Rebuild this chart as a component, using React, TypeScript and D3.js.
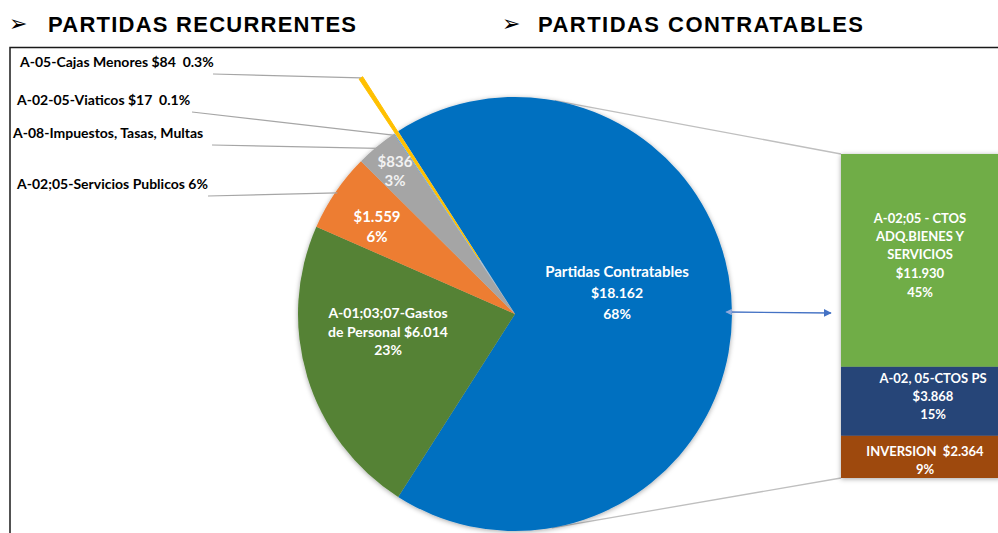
import * as d3 from 'd3';

// main pie data
const categories = [
  'Partidas Contratables',
  'A-01;03;07-Gastos de Personal',
  'A-02;05-Servicios Publicos',
  'A-08-Impuestos, Tasas, Multas',
  'A-02-05-Viaticos',
  'A-05-Cajas Menores',
];
const values = [18162, 6014, 1559, 836, 17, 84];
const sliceColors = ['#0070C0', '#548235', '#ED7D31', '#A5A5A5', '#5B9BD5', '#FFC000'];

// bar (breakdown of Partidas Contratables)
const barCategories = ['A-02;05 - CTOS ADQ.BIENES Y SERVICIOS', 'A-02, 05-CTOS PS', 'INVERSION'];
const barValues = [11930, 3868, 2364];
const barColors = ['#70AD47', '#264478', '#9E480E'];

const headers = ['PARTIDAS RECURRENTES', 'PARTIDAS CONTRATABLES'];

const W = 998;
const H = 533;
const cx = 515;
const cy = 314;
const R = 217;
const explode = 65; // cajas menores slice is pulled out
const bar = { x: 841, w: 160, top: 154, bottom: 478 };

const locale = d3.formatLocale({ decimal: ',', thousands: '.', grouping: [3], currency: ['$', ''] });
const money = locale.format('$,');
const total = d3.sum(values);
const pct = (v: number) => `${Math.round((v / total) * 100)}%`;
const pct1 = (v: number) => `${((v / total) * 100).toFixed(1)}%`;

const FONT = 'Lato, "Open Sans", sans-serif';

export default function App() {
  const start = Math.PI / 2 - (values[0] / total) * Math.PI;
  const pie = d3.pie<number>().sort(null).startAngle(start).endAngle(start + 2 * Math.PI);
  const arcs = pie(values);
  const arc = d3.arc<d3.PieArcDatum<number>>().innerRadius(0).outerRadius(R);

  const mid = (a: d3.PieArcDatum<number>) => (a.startAngle + a.endAngle) / 2;
  const polar = (ang: number, r: number): [number, number] => [cx + r * Math.sin(ang), cy - r * Math.cos(ang)];

  // bar scale
  const y = d3.scaleLinear().domain([0, d3.sum(barValues)]).range([bar.top, bar.bottom]);
  const stacked = barValues.map((v, i) => ({ v, y0: y(d3.sum(barValues.slice(0, i))), y1: y(d3.sum(barValues.slice(0, i + 1))) }));

  // connector lines: tangents from the bar corners to the pie
  const tangent = (px: number, py: number, sign: number): [number, number] => {
    const dx = px - cx;
    const dy = py - cy;
    const d = Math.hypot(dx, dy);
    const a = Math.atan2(dy, dx) + sign * Math.acos(R / d);
    return [cx + R * Math.cos(a), cy + R * Math.sin(a)];
  };
  const tTop = tangent(bar.x, bar.top, -1);
  const tBot = tangent(bar.x, bar.bottom, 1);

  const cajas = arcs[5];
  const cajasOff = polar(mid(cajas), explode);
  const cajasTip = polar(mid(cajas), R + explode);

  const lbl = { fill: '#fff', fontFamily: FONT, fontWeight: 700, fontSize: 14, textAnchor: 'middle' as const, style: { whiteSpace: 'pre' as const } };
  const outLbl = { fill: '#000', fontFamily: FONT, fontWeight: 700, fontSize: 14, style: { whiteSpace: 'pre' as const } };

  // outside labels: [index, text, x, y, leader start x]
  const outside: [number, string, number, number, number][] = [
    [5, `${categories[5]} ${money(values[5])}  ${pct1(values[5])}`, 20, 62, 213],
    [4, `${categories[4]} ${money(values[4])}  ${pct1(values[4])}`, 17, 100, 192],
    [3, categories[3], 13, 133, 212],
    [2, `${categories[2]} ${pct(values[2])}`, 17, 184, 208],
  ];

  return (
    <div style={{ position: 'absolute', left: 0, top: 0 }}>
      <svg width={W} height={H} style={{ display: 'block', background: '#fff' }}>
        <defs>
          <filter id="sh" x="-20%" y="-20%" width="140%" height="140%">
            <feDropShadow dx="0" dy="1" stdDeviation="2.5" floodColor="#000" floodOpacity="0.35" />
          </filter>
          <marker id="ah" viewBox="0 0 10 10" refX="9" refY="5" markerWidth="6" markerHeight="6" orient="auto">
            <path d="M0,0 L10,5 L0,10 z" fill="#4472C4" />
          </marker>
          <marker id="as" viewBox="0 0 10 10" refX="1" refY="5" markerWidth="5" markerHeight="5" orient="auto">
            <path d="M10,0 L0,5 L10,10 z" fill="#8FAADC" />
          </marker>
        </defs>

        {/* headers */}
        {headers.map((h, i) => {
          const x0 = i === 0 ? 9 : 502;
          return (
            <g key={h}>
              <text x={x0} y={31} fontFamily="DejaVu Sans" fontSize={22} fill="#000">➢</text>
              <text x={x0 + 39 - i * 3} y={31.5} fontFamily='"Liberation Sans", Arial, sans-serif' fontWeight={700} fontSize={22}
                textLength={i === 0 ? 308 : 325} lengthAdjust="spacing" fill="#000">{h}</text>
            </g>
          );
        })}

        {/* chart frame */}
        <rect x={10} y={47.5} width={1000} height={520} fill="none" stroke="#1a1a1a" strokeWidth={1.5} />

        {/* connector lines */}
        <line x1={tTop[0]} y1={tTop[1]} x2={bar.x} y2={bar.top} stroke="#BFBFBF" strokeWidth={1.3} />
        <line x1={tBot[0]} y1={tBot[1]} x2={bar.x} y2={bar.bottom} stroke="#BFBFBF" strokeWidth={1.3} />

        {/* pie */}
        <g filter="url(#sh)">
          {arcs.slice(0, 5).map((a, i) => (
            <path key={i} d={arc(a) || ''} transform={`translate(${cx},${cy})`} fill={sliceColors[i]} />
          ))}
        </g>
        <path d={arc(cajas) || ''} transform={`translate(${cajasOff[0]},${cajasOff[1]})`} fill={sliceColors[5]} stroke={sliceColors[5]} strokeWidth={1} />

        {/* bar */}
        <g filter="url(#sh)">
          {stacked.map((s, i) => (
            <rect key={i} x={bar.x} y={s.y0} width={bar.w} height={s.y1 - s.y0} fill={barColors[i]} />
          ))}
        </g>

        {/* arrow */}
        <line x1={cx + R - 6} y1={cy - 2} x2={bar.x - 10} y2={cy - 1} stroke="#4472C4" strokeWidth={1.3}
          markerEnd="url(#ah)" markerStart="url(#as)" />

        {/* leader lines + outside labels */}
        {outside.map(([idx, t, x, ty, lx]) => {
          const a = arcs[idx];
          const end = idx === 5 ? cajasTip : polar(mid(a), R - 2);
          return (
            <g key={idx}>
              <line x1={lx} y1={ty + 12} x2={end[0]} y2={end[1]} stroke="#A6A6A6" strokeWidth={1.2} />
              <text x={x} y={ty + 5} {...outLbl}>{t}</text>
            </g>
          );
        })}

        {/* inside labels */}
        <text {...lbl} x={617} y={277}>
          <tspan x={617} fontSize={15}>{categories[0]}</tspan>
          <tspan x={617} dy={21}>{money(values[0])}</tspan>
          <tspan x={617} dy={21}>{pct(values[0])}</tspan>
        </text>
        <text {...lbl} x={388} y={318}>
          <tspan x={388}>A-01;03;07-Gastos</tspan>
          <tspan x={388} dy={18.5}>de Personal {money(values[1])}</tspan>
          <tspan x={388} dy={18.5}>{pct(values[1])}</tspan>
        </text>
        <text {...lbl} fontSize={15} x={377} y={222}>
          <tspan x={377}>{money(values[2])}</tspan>
          <tspan x={377} dy={20}>{pct(values[2])}</tspan>
        </text>
        <text {...lbl} fontSize={15} fill="#F2F2F2" x={395} y={167}>
          <tspan x={395}>{money(values[3])}</tspan>
          <tspan x={395} dy={19}>{pct(values[3])}</tspan>
        </text>

        {/* bar labels */}
        <text {...lbl} fontSize={13} x={920} y={223}>
          <tspan x={920}>A-02;05 - CTOS</tspan>
          <tspan x={920} dy={18}>ADQ.BIENES Y</tspan>
          <tspan x={920} dy={18}>SERVICIOS</tspan>
          <tspan x={920} dy={19}>{money(barValues[0])}</tspan>
          <tspan x={920} dy={19}>{pct(barValues[0])}</tspan>
        </text>
        <text {...lbl} fontSize={13} x={933} y={383}>
          <tspan x={933}>{barCategories[1]}</tspan>
          <tspan x={933} dy={18}>{money(barValues[1])}</tspan>
          <tspan x={933} dy={18}>{pct(barValues[1])}</tspan>
        </text>
        <text {...lbl} fontSize={13} x={925} y={456}>
          <tspan x={925}>{`${barCategories[2]}  ${money(barValues[2])}`}</tspan>
          <tspan x={925} dy={18}>{pct(barValues[2])}</tspan>
        </text>
      </svg>
    </div>
  );
}
